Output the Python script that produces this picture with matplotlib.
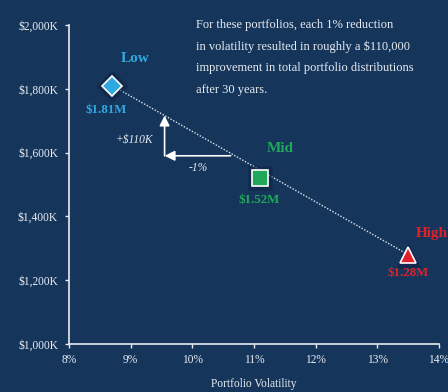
import matplotlib
matplotlib.use("Agg")
import matplotlib.pyplot as plt
from matplotlib.ticker import FuncFormatter

# Portfolio data
names = ["Low", "Mid", "High"]
volatility = [8.7, 11.1, 13.5]          # %
distributions = [1810, 1520, 1280]      # $K after 30 years
value_labels = ["$1.81M", "$1.52M", "$1.28M"]
colors = ["#2fa9e1", "#1fa85a", "#e3202a"]
markers = ["D", "s", "^"]

x_ticks = [8, 9, 10, 11, 12, 13, 14]
y_ticks = [1000, 1200, 1400, 1600, 1800, 2000]

bg = "#15355b"
fg = "#e8ecf2"
serif = ["Liberation Serif", "DejaVu Serif"]
plt.rcParams["font.family"] = serif

fig = plt.figure(figsize=(4.48, 3.92), dpi=100, facecolor=bg)
ax = fig.add_axes([69 / 448, 1 - 344 / 392, (439 - 69) / 448, (344 - 25) / 392])
ax.set_facecolor(bg)

ax.set_xlim(8, 14)
ax.set_ylim(1000, 2000)
ax.set_xticks(x_ticks)
ax.set_yticks(y_ticks)
ax.xaxis.set_major_formatter(FuncFormatter(lambda v, p: f"{v:.0f}%"))
ax.yaxis.set_major_formatter(FuncFormatter(lambda v, p: f"${v:,.0f}K"))

for s in ["top", "right"]:
    ax.spines[s].set_visible(False)
for s in ["left", "bottom"]:
    ax.spines[s].set_color(fg)
    ax.spines[s].set_linewidth(1.2)
ax.tick_params(colors=fg, labelsize=8.3, length=3, width=1)
ax.tick_params(axis="x", pad=4)
ax.tick_params(axis="y", pad=5)
ax.set_xlabel("Portfolio Volatility", color=fg, fontsize=8.3, labelpad=9)

# Dotted trend line through the portfolios
ax.plot([volatility[0], volatility[-1]], [distributions[0], distributions[-1]],
        ls=(0, (1, 1.2)), color="#dfe6ee", lw=1.0, zorder=2)

# Markers with soft dark halo
sizes = [10.5, 11, 12]
for x, y, c, m, ms in zip(volatility, distributions, colors, markers, sizes):
    ax.plot(x, y, marker=m, ms=ms + 6, color="#0d2242", alpha=0.6,
            mec="none", zorder=3)
    ax.plot(x, y, marker=m, ms=ms, color=c, mec="white", mew=1.2, zorder=4)

# Name and value labels
ax.text(9.08, 1894, "Low", color=colors[0], fontsize=11, fontweight="bold",
        ha="center", va="center")
ax.text(8.6, 1734, value_labels[0], color=colors[0], fontsize=9.3, fontweight="bold",
        ha="center", va="center")
ax.text(11.43, 1612, "Mid", color=colors[1], fontsize=11, fontweight="bold",
        ha="center", va="center")
ax.text(11.09, 1450, value_labels[1], color=colors[1], fontsize=9.3, fontweight="bold",
        ha="center", va="center")
ax.text(13.62, 1347, "High", color=colors[2], fontsize=11, fontweight="bold",
        ha="left", va="center")
ax.text(13.5, 1222, value_labels[2], color=colors[2], fontsize=9.3, fontweight="bold",
        ha="center", va="center")

# Slope illustration arrows
x0, x1, ybase = 9.55, 10.62, 1590
slope = (distributions[-1] - distributions[0]) / (volatility[-1] - volatility[0])
ytop = distributions[0] + slope * (x0 - volatility[0])
ax.annotate("", xy=(x0, ybase), xytext=(x1, ybase),
            arrowprops=dict(arrowstyle="-|>,head_length=0.6,head_width=0.3",
                            color="white", lw=1.2, shrinkA=0, shrinkB=0))
ax.annotate("", xy=(x0, ytop), xytext=(x0, ybase),
            arrowprops=dict(arrowstyle="-|>,head_length=0.6,head_width=0.3",
                            color="white", lw=1.2, shrinkA=0, shrinkB=0))
ax.text(9.36, 1640, "+$110K", color=fg, fontsize=8.3, style="italic",
        ha="right", va="center")
ax.text(10.09, 1553, "-1%", color=fg, fontsize=8.3, style="italic",
        ha="center", va="center")

# Explanatory note
note = ["For these portfolios, each 1% reduction",
        "in volatility resulted in roughly a $110,000",
        "improvement in total portfolio distributions",
        "after 30 years."]
for i, line in enumerate(note):
    fig.text(196 / 448, 1 - (25 + i * 21.5) / 392, line, color=fg, fontsize=9,
             ha="left", va="center")

fig.savefig("out.png", dpi=100, facecolor=bg)
